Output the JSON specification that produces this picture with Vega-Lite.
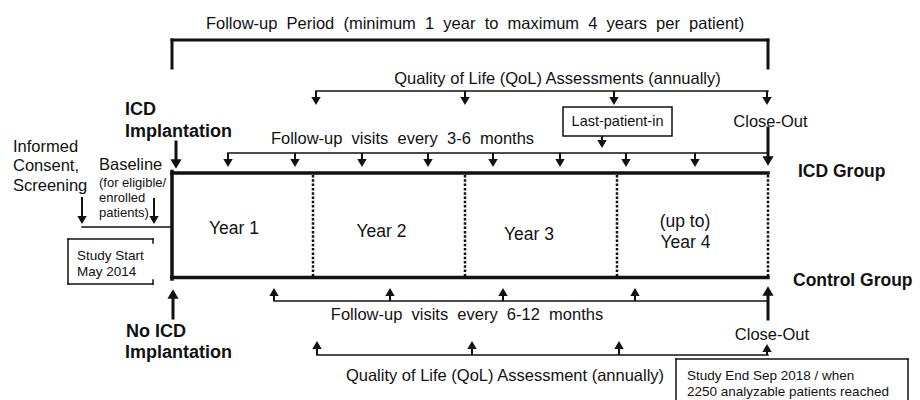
{
  "$schema": "https://vega.github.io/schema/vega-lite/v6.json",
  "width": 920,
  "height": 400,
  "padding": 0,
  "autosize": {"type": "none"},
  "background": "white",
  "config": {"view": {"stroke": null}, "text": {"font": "Liberation Sans", "color": "#111"}},
  "datasets": {
    "segments": [
      {"kind": "thick", "x": 172, "y": 173, "x2": 768, "y2": 173},
      {"kind": "thick", "x": 172, "y": 277.5, "x2": 768, "y2": 277.5},
      {"kind": "thick", "x": 172, "y": 171.5, "x2": 172, "y2": 279},
      {"kind": "bold", "x": 172, "y": 40, "x2": 768, "y2": 40},
      {"kind": "bold", "x": 172, "y": 40, "x2": 172, "y2": 68},
      {"kind": "bold", "x": 768, "y": 40, "x2": 768, "y2": 68},
      {"kind": "bold", "x": 768, "y": 128, "x2": 768, "y2": 160},
      {"kind": "bold", "x": 768, "y": 292, "x2": 768, "y2": 319},
      {"kind": "bold", "x": 176, "y": 142, "x2": 176, "y2": 162},
      {"kind": "bold", "x": 173, "y": 296, "x2": 173, "y2": 318},
      {"kind": "med", "x": 82, "y": 197, "x2": 82, "y2": 219},
      {"kind": "med", "x": 154, "y": 198, "x2": 154, "y2": 219},
      {"kind": "med", "x": 316, "y": 91, "x2": 316, "y2": 100},
      {"kind": "med", "x": 465, "y": 91, "x2": 465, "y2": 100},
      {"kind": "med", "x": 614, "y": 91, "x2": 614, "y2": 100},
      {"kind": "med", "x": 767, "y": 91, "x2": 767, "y2": 100},
      {"kind": "med", "x": 228, "y": 153, "x2": 228, "y2": 162},
      {"kind": "med", "x": 295, "y": 153, "x2": 295, "y2": 162},
      {"kind": "med", "x": 362, "y": 153, "x2": 362, "y2": 162},
      {"kind": "med", "x": 428, "y": 153, "x2": 428, "y2": 162},
      {"kind": "med", "x": 493, "y": 153, "x2": 493, "y2": 162},
      {"kind": "med", "x": 560, "y": 153, "x2": 560, "y2": 162},
      {"kind": "med", "x": 626, "y": 153, "x2": 626, "y2": 162},
      {"kind": "med", "x": 695, "y": 153, "x2": 695, "y2": 162},
      {"kind": "med", "x": 602, "y": 136, "x2": 602, "y2": 143},
      {"kind": "med", "x": 274, "y": 293, "x2": 274, "y2": 301},
      {"kind": "med", "x": 390, "y": 293, "x2": 390, "y2": 301},
      {"kind": "med", "x": 503, "y": 293, "x2": 503, "y2": 301},
      {"kind": "med", "x": 635, "y": 293, "x2": 635, "y2": 301},
      {"kind": "med", "x": 317, "y": 346, "x2": 317, "y2": 355},
      {"kind": "med", "x": 472, "y": 346, "x2": 472, "y2": 355},
      {"kind": "med", "x": 619, "y": 346, "x2": 619, "y2": 355},
      {"kind": "med", "x": 767, "y": 348, "x2": 767, "y2": 355},
      {"kind": "thin", "x": 316, "y": 91, "x2": 768, "y2": 91},
      {"kind": "thin", "x": 228, "y": 153, "x2": 768, "y2": 153},
      {"kind": "thin", "x": 274, "y": 301, "x2": 768, "y2": 301},
      {"kind": "thin", "x": 317, "y": 355, "x2": 768, "y2": 355},
      {"kind": "thin", "x": 82, "y": 227, "x2": 172, "y2": 227},
      {"kind": "thin", "x": 676, "y": 359, "x2": 908, "y2": 359},
      {"kind": "thin", "x": 676, "y": 359, "x2": 676, "y2": 405},
      {"kind": "thin", "x": 908, "y": 359, "x2": 908, "y2": 405},
      {"kind": "thin", "x": 68, "y": 239, "x2": 153, "y2": 239},
      {"kind": "thin", "x": 68, "y": 239, "x2": 68, "y2": 284},
      {"kind": "thin", "x": 68, "y": 284, "x2": 153, "y2": 284},
      {"kind": "thin", "x": 153, "y": 239, "x2": 153, "y2": 243},
      {"kind": "thin", "x": 153, "y": 280, "x2": 153, "y2": 284},
      {"kind": "dot", "x": 313, "y": 175, "x2": 313, "y2": 276},
      {"kind": "dot", "x": 465, "y": 175, "x2": 465, "y2": 276},
      {"kind": "dot", "x": 617, "y": 175, "x2": 617, "y2": 276},
      {"kind": "dot", "x": 768, "y": 175, "x2": 768, "y2": 276}
    ],
    "boxes": [
      {"x": 563, "y": 107, "x2": 672, "y2": 136}
    ],
    "heads": [
      {"dir": "down", "big": "no", "x": 316, "y": 101},
      {"dir": "down", "big": "no", "x": 465, "y": 101},
      {"dir": "down", "big": "no", "x": 614, "y": 101},
      {"dir": "down", "big": "no", "x": 767, "y": 101},
      {"dir": "down", "big": "no", "x": 228, "y": 163},
      {"dir": "down", "big": "no", "x": 295, "y": 163},
      {"dir": "down", "big": "no", "x": 362, "y": 163},
      {"dir": "down", "big": "no", "x": 428, "y": 163},
      {"dir": "down", "big": "no", "x": 493, "y": 163},
      {"dir": "down", "big": "no", "x": 560, "y": 163},
      {"dir": "down", "big": "no", "x": 626, "y": 163},
      {"dir": "down", "big": "no", "x": 695, "y": 163},
      {"dir": "down", "big": "no", "x": 602, "y": 144},
      {"dir": "down", "big": "no", "x": 82, "y": 220},
      {"dir": "down", "big": "no", "x": 154, "y": 220},
      {"dir": "down", "big": "yes", "x": 768, "y": 161},
      {"dir": "down", "big": "yes", "x": 176, "y": 164},
      {"dir": "up", "big": "no", "x": 274, "y": 292},
      {"dir": "up", "big": "no", "x": 390, "y": 292},
      {"dir": "up", "big": "no", "x": 503, "y": 292},
      {"dir": "up", "big": "no", "x": 635, "y": 292},
      {"dir": "up", "big": "no", "x": 317, "y": 345},
      {"dir": "up", "big": "no", "x": 472, "y": 345},
      {"dir": "up", "big": "no", "x": 619, "y": 345},
      {"dir": "up", "big": "no", "x": 767, "y": 348},
      {"dir": "up", "big": "yes", "x": 768, "y": 291},
      {"dir": "up", "big": "yes", "x": 173, "y": 294}
    ],
    "labels": [
      {"role": "center", "x": 475, "y": 23.5, "text": "Follow-up\u00a0 Period\u00a0 (minimum\u00a0 1\u00a0 year\u00a0 to\u00a0 maximum\u00a0 4\u00a0 years\u00a0 per\u00a0 patient)"},
      {"role": "center", "x": 557.5, "y": 78.5, "text": "Quality of Life (QoL) Assessments (annually)"},
      {"role": "center", "x": 402.5, "y": 138.5, "text": "Follow-up\u00a0 visits\u00a0 every\u00a0 3-6\u00a0 months"},
      {"role": "center", "x": 770.5, "y": 121.5, "text": "Close-Out"},
      {"role": "center", "x": 467, "y": 315, "text": "Follow-up\u00a0 visits\u00a0 every\u00a0 6-12\u00a0 months"},
      {"role": "center", "x": 772, "y": 334.5, "text": "Close-Out"},
      {"role": "center", "x": 505, "y": 376, "text": "Quality of Life (QoL) Assessment (annually)"},
      {"role": "left", "x": 13, "y": 146.5, "text": "Informed"},
      {"role": "left", "x": 13, "y": 165.5, "text": "Consent,"},
      {"role": "left", "x": 13, "y": 185.5, "text": "Screening"},
      {"role": "left", "x": 99, "y": 164.5, "text": "Baseline"},
      {"role": "bold", "x": 125, "y": 109.5, "text": "ICD"},
      {"role": "bold", "x": 125, "y": 131.5, "text": "Implantation"},
      {"role": "bold", "x": 126, "y": 331.5, "text": "No ICD"},
      {"role": "bold", "x": 125, "y": 353, "text": "Implantation"},
      {"role": "group", "x": 798, "y": 171.5, "text": "ICD Group"},
      {"role": "group", "x": 793, "y": 281, "text": "Control Group"},
      {"role": "year", "x": 234, "y": 228.5, "text": "Year 1"},
      {"role": "year", "x": 381.5, "y": 231.5, "text": "Year 2"},
      {"role": "year", "x": 529, "y": 235, "text": "Year 3"},
      {"role": "year", "x": 685, "y": 221.5, "text": "(up to)"},
      {"role": "year", "x": 685.5, "y": 242.5, "text": "Year 4"},
      {"role": "small", "x": 99, "y": 183, "text": "(for eligible/"},
      {"role": "small", "x": 99, "y": 197.5, "text": "enrolled"},
      {"role": "small", "x": 99, "y": 212.5, "text": "patients)"},
      {"role": "note", "x": 77, "y": 255.5, "text": "Study Start"},
      {"role": "note", "x": 77, "y": 271.5, "text": "May 2014"},
      {"role": "note", "x": 687, "y": 376, "text": "Study End Sep 2018 / when"},
      {"role": "note", "x": 687, "y": 392, "text": "2250 analyzable patients reached"},
      {"role": "lpi", "x": 617.5, "y": 122, "text": "Last-patient-in"}
    ]
  },
  "encoding": {
    "x": {"field": "x", "type": "quantitative", "scale": {"domain": [0, 920], "nice": false, "zero": false}, "axis": null},
    "y": {"field": "y", "type": "quantitative", "scale": {"domain": [0, 400], "nice": false, "zero": false, "reverse": true}, "axis": null}
  },
  "layer": [
    {
      "data": {"name": "segments"},
      "transform": [{"filter": "datum.kind === 'thick'"}],
      "mark": {"type": "rule", "color": "#111", "strokeWidth": 3.5, "strokeCap": "square"},
      "encoding": {"x2": {"field": "x2"}, "y2": {"field": "y2"}}
    },
    {
      "data": {"name": "segments"},
      "transform": [{"filter": "datum.kind === 'bold'"}],
      "mark": {"type": "rule", "color": "#111", "strokeWidth": 3, "strokeCap": "square"},
      "encoding": {"x2": {"field": "x2"}, "y2": {"field": "y2"}}
    },
    {
      "data": {"name": "segments"},
      "transform": [{"filter": "datum.kind === 'med'"}],
      "mark": {"type": "rule", "color": "#111", "strokeWidth": 2},
      "encoding": {"x2": {"field": "x2"}, "y2": {"field": "y2"}}
    },
    {
      "data": {"name": "segments"},
      "transform": [{"filter": "datum.kind === 'thin'"}],
      "mark": {"type": "rule", "color": "#111", "strokeWidth": 1.5, "strokeCap": "square"},
      "encoding": {"x2": {"field": "x2"}, "y2": {"field": "y2"}}
    },
    {
      "data": {"name": "segments"},
      "transform": [{"filter": "datum.kind === 'dot'"}],
      "mark": {"type": "rule", "color": "#111", "strokeWidth": 2.5, "strokeDash": [2.5, 1.8]},
      "encoding": {"x2": {"field": "x2"}, "y2": {"field": "y2"}}
    },
    {
      "data": {"name": "boxes"},
      "mark": {"type": "rect", "filled": false, "stroke": "#111", "strokeWidth": 1.5},
      "encoding": {"x2": {"field": "x2"}, "y2": {"field": "y2"}}
    },
    {
      "data": {"name": "heads"},
      "mark": {"type": "point", "filled": true, "color": "#111", "opacity": 1},
      "encoding": {
        "shape": {"field": "dir", "type": "nominal", "scale": {"domain": ["down", "up"], "range": ["triangle-down", "triangle-up"]}, "legend": null},
        "size": {"field": "big", "type": "ordinal", "scale": {"domain": ["no", "yes"], "range": [88, 125]}, "legend": null}
      }
    },
    {
      "data": {"name": "labels"},
      "transform": [{"filter": "datum.role === 'center'"}],
      "mark": {"type": "text", "fontSize": 16.5, "align": "center", "baseline": "middle"},
      "encoding": {"text": {"field": "text"}}
    },
    {
      "data": {"name": "labels"},
      "transform": [{"filter": "datum.role === 'left'"}],
      "mark": {"type": "text", "fontSize": 16.5, "align": "left", "baseline": "middle"},
      "encoding": {"text": {"field": "text"}}
    },
    {
      "data": {"name": "labels"},
      "transform": [{"filter": "datum.role === 'bold'"}],
      "mark": {"type": "text", "fontSize": 18, "fontWeight": "bold", "align": "left", "baseline": "middle"},
      "encoding": {"text": {"field": "text"}}
    },
    {
      "data": {"name": "labels"},
      "transform": [{"filter": "datum.role === 'group'"}],
      "mark": {"type": "text", "fontSize": 17.5, "fontWeight": "bold", "align": "left", "baseline": "middle"},
      "encoding": {"text": {"field": "text"}}
    },
    {
      "data": {"name": "labels"},
      "transform": [{"filter": "datum.role === 'year'"}],
      "mark": {"type": "text", "fontSize": 17.5, "align": "center", "baseline": "middle"},
      "encoding": {"text": {"field": "text"}}
    },
    {
      "data": {"name": "labels"},
      "transform": [{"filter": "datum.role === 'small'"}],
      "mark": {"type": "text", "fontSize": 13, "align": "left", "baseline": "middle"},
      "encoding": {"text": {"field": "text"}}
    },
    {
      "data": {"name": "labels"},
      "transform": [{"filter": "datum.role === 'note'"}],
      "mark": {"type": "text", "fontSize": 13.5, "align": "left", "baseline": "middle"},
      "encoding": {"text": {"field": "text"}}
    },
    {
      "data": {"name": "labels"},
      "transform": [{"filter": "datum.role === 'lpi'"}],
      "mark": {"type": "text", "fontSize": 14.5, "align": "center", "baseline": "middle"},
      "encoding": {"text": {"field": "text"}}
    }
  ]
}
